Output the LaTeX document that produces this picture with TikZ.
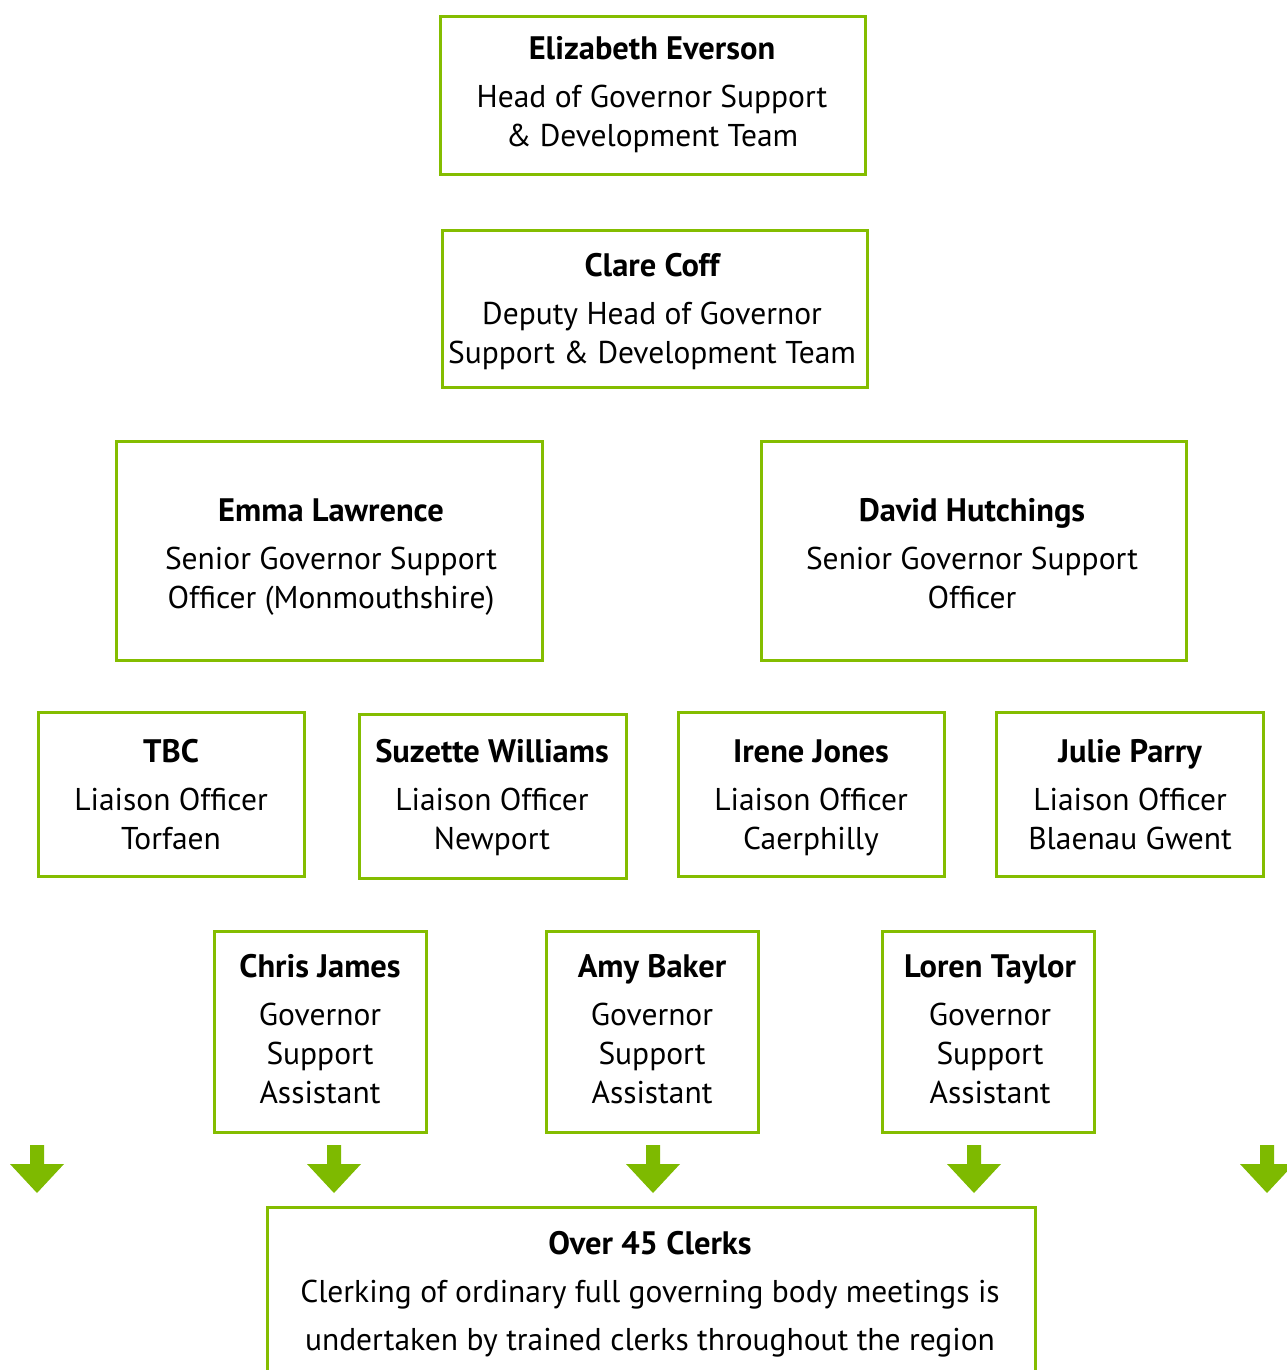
\documentclass[tikz,border=0pt]{standalone}
\usepackage{fontspec}
\setmainfont{PT Sans}
\definecolor{gr}{RGB}{132,189,0}
\definecolor{argr}{RGB}{126,186,0}
\tikzset{
  box/.style={draw=gr, line width=3pt, inner sep=0pt},
  txt/.style={align=center, inner sep=0pt, anchor=base, font=\fontsize{31.5}{39}\selectfont},
  blockarrow/.style={fill=argr, draw=none},
}
\newcommand{\nm}[1]{{\fontsize{32.5}{39}\selectfont\bfseries #1}\\[9pt]}
\newcommand{\downarrowat}[1]{%
  \fill[blockarrow] (#1) ++(-7,0) -- ++(14,0) -- ++(0,19) -- ++(20,0) -- ++(-27,29) -- ++(-27,-29) -- ++(20,0) -- cycle;}
\begin{document}
\begin{tikzpicture}[x=1pt,y=-1pt]
\useasboundingbox (0,0) rectangle (1287,1370);
% boxes
\node[box, minimum width=425, minimum height=157] (eliz) at (652.5,95.5) {};
\node[box, minimum width=425, minimum height=157] (clare) at (654.5,308.5) {};
\node[box, minimum width=426, minimum height=219] (emma) at (329,550.5) {};
\node[box, minimum width=425, minimum height=219] (david) at (973.5,550.5) {};
\node[box, minimum width=266, minimum height=164] (tbc) at (171,794) {};
\node[box, minimum width=267, minimum height=164] (suz) at (492.5,796) {};
\node[box, minimum width=266, minimum height=164] (irene) at (811,794) {};
\node[box, minimum width=267, minimum height=164] (julie) at (1129.5,794) {};
\node[box, minimum width=212, minimum height=201] (chris) at (320,1031.5) {};
\node[box, minimum width=212, minimum height=201] (amy) at (652,1031.5) {};
\node[box, minimum width=212, minimum height=201] (loren) at (988,1031.5) {};
\node[box, minimum width=768, minimum height=260, anchor=north] (clerks) at (651,1206) {};
% texts (anchor=base is the baseline of the last line)
\node[txt] (elizt) at (652,146.5)
  {\nm{Elizabeth Everson}Head of Governor Support\\\& Development Team};
\node[txt] (claret) at (652,363.5)
  {\nm{Clare Coff}Deputy Head of Governor\\Support \& Development Team};
\node[txt] (emmat) at (331,608.5)
  {\nm{Emma Lawrence}Senior Governor Support\\Officer (Monmouthshire)};
\node[txt] (davidt) at (972,608.5)
  {\nm{David Hutchings}Senior Governor Support\\Officer};
\node[txt] (tbct) at (171,849.5)
  {\nm{TBC}Liaison Officer\\Torfaen};
\node[txt] (suzt) at (492,849.5)
  {\nm{Suzette Williams}Liaison Officer\\Newport};
\node[txt] (irenet) at (811,849.5)
  {\nm{Irene Jones}Liaison Officer\\Caerphilly};
\node[txt] (juliet) at (1130,849.5)
  {\nm{Julie Parry}Liaison Officer\\Blaenau Gwent};
\node[txt] (christ) at (320,1103.5)
  {\nm{Chris James}Governor\\Support\\Assistant};
\node[txt] (amyt) at (652,1103.5)
  {\nm{Amy Baker}Governor\\Support\\Assistant};
\node[txt] (lorent) at (990,1103.5)
  {\nm{Loren Taylor}Governor\\Support\\Assistant};
\node[txt, font=\fontsize{31.5}{48}\selectfont] (clerkst) at (650,1350.5)
  {{\fontsize{32.5}{48}\selectfont\bfseries Over 45 Clerks}\\Clerking of ordinary full governing body meetings is\\undertaken by trained clerks throughout the region};
% arrows
\coordinate (a1) at (37,1145);
\coordinate (a2) at (334,1145);
\coordinate (a3) at (653,1145);
\coordinate (a4) at (974,1145);
\coordinate (a5) at (1267,1145);
\downarrowat{a1}
\downarrowat{a2}
\downarrowat{a3}
\downarrowat{a4}
\downarrowat{a5}
\end{tikzpicture}
\end{document}
